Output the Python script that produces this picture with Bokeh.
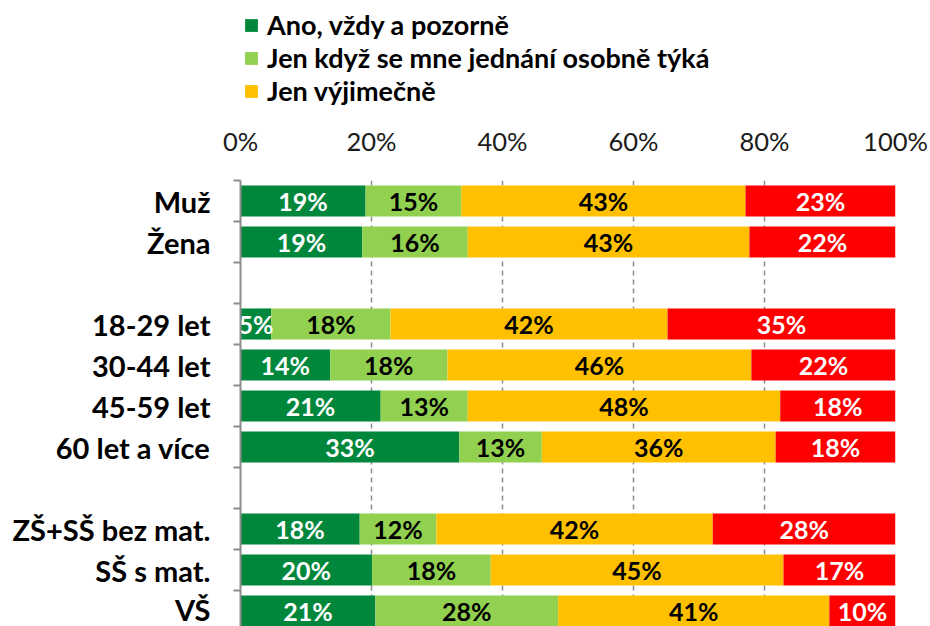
from bokeh.plotting import figure
from bokeh.layouts import column
from bokeh.models import (Range1d, FixedTicker, PrintfTickFormatter, Legend,
                          LegendItem, ColumnDataSource)
from bokeh.core.properties import value
from bokeh.embed import file_html
from bokeh.resources import INLINE

# ---------------- data ----------------
categories = ["Muž", "Žena", "", "18-29 let", "30-44 let", "45-59 let",
              "60 let a více", "", "ZŠ+SŠ bez mat.", "SŠ s mat.", "VŠ"]
series_names = ["Ano, vždy a pozorně", "Jen když se mne jednání osobně týká",
                "Jen výjimečně", "Nikdy"]
# values for the non-empty categories, in order (percent)
ano_vzdy = [19.1, 18.6, 4.7, 13.7, 21.4, 33.4, 18.2, 20.1, 20.6]
jen_kdyz = [14.6, 16.1, 18.2, 17.9, 13.3, 12.6, 11.7, 18.1, 27.9]
jen_vyjimecne = [43.4, 43.0, 42.3, 46.4, 47.7, 35.7, 42.2, 44.7, 41.4]
nikdy = [22.9, 22.3, 34.8, 22.0, 17.6, 18.3, 27.9, 17.1, 10.1]
x_ticks = [0, 20, 40, 60, 80, 100]

# ---------------- styles ----------------
colors = ["#00873C", "#92D050", "#FFC000", "#FF0000"]
label_colors = ["white", "black", "black", "white"]
FONT = "Lato"
ROW_PX = 41
LEG_H = 110
MAIN_H = 516
TOP_BORDER = 70
FRAME_H = MAIN_H - TOP_BORDER
NAN = float("nan")

series = [ano_vzdy, jen_kdyz, jen_vyjimecne, nikdy]
rows = [i + 0.5 for i, c in enumerate(categories) if c]
names = [c for c in categories if c]

# ---------------- main chart ----------------
p = figure(width=930, height=MAIN_H, output_backend="svg", toolbar_location=None,
           x_range=Range1d(0, 100), y_range=Range1d(FRAME_H / ROW_PX, 0),
           x_axis_location="above", min_border_left=240, min_border_right=35,
           min_border_top=TOP_BORDER, min_border_bottom=0)
p.outline_line_color = None
p.background_fill_color = "white"

# legend strip (its frame is aligned with the chart's frame by the column)
lf = figure(width=930, height=LEG_H, output_backend="svg", toolbar_location=None,
            x_range=Range1d(0, 100), y_range=Range1d(0, 1),
            x_axis_location=None, y_axis_location=None,
            min_border_left=240, min_border_right=35, min_border_top=0,
            min_border_bottom=0)
lf.outline_line_color = None
lf.xgrid.grid_line_color = None
lf.ygrid.grid_line_color = None

lefts = [0.0] * len(rows)
legend_items = []
tx, ty, tt, tc = [], [], [], []
for k, vals in enumerate(series):
    rights = [l + v for l, v in zip(lefts, vals)]
    src = ColumnDataSource(dict(y=rows, left=lefts, right=rights))
    p.hbar(y="y", left="left", right="right", height=0.76, source=src,
           fill_color=colors[k], line_color=None)
    if k < 3:
        # swatch-only renderer for the legend (no visible data)
        rr = lf.hbar(y=[NAN], left=[NAN], right=[NAN], height=0.5,
                     fill_color=colors[k], line_color=None)
        legend_items.append(LegendItem(label=series_names[k], renderers=[rr]))
    for l, v, y in zip(lefts, vals, rows):
        tx.append(l + v / 2)
        ty.append(y)
        tt.append(f"{round(v)}%")
        tc.append(label_colors[k])
    lefts = rights

legend = Legend(items=legend_items, location=(3, 3), orientation="vertical",
                label_text_font=FONT, label_text_font_style="bold",
                label_text_font_size="27px", label_text_color="black",
                glyph_width=16, glyph_height=16, label_height=27,
                label_standoff=8, spacing=0, padding=0, margin=0,
                border_line_color=None, background_fill_alpha=0)
lf.add_layout(legend, "center")

tsrc = ColumnDataSource(dict(x=tx, y=ty, text=tt, color=tc))
p.text(x="x", y="y", text="text", text_color="color", source=tsrc,
       text_align="center", text_baseline="middle", text_font=value(FONT),
       text_font_style="bold", text_font_size="25px")

# x axis (top)
xa = p.xaxis[0]
xa.ticker = FixedTicker(ticks=x_ticks)
xa.formatter = PrintfTickFormatter(format="%d%%")
xa.axis_line_color = None
xa.major_tick_line_color = None
xa.minor_tick_line_color = None
xa.major_label_text_font = FONT
xa.major_label_text_font_size = "25.5px"
xa.major_label_text_color = "#1a1a1a"
xa.major_label_standoff = 19

# y axis (left)
ya = p.yaxis[0]
ya.ticker = FixedTicker(ticks=rows, minor_ticks=list(range(len(categories) + 1)))
ya.major_label_overrides = {y: n for y, n in zip(rows, names)}
ya.major_tick_out = 0
ya.major_tick_in = 0
ya.minor_tick_out = 7
ya.minor_tick_in = 0
ya.minor_tick_line_color = "#8c8c8c"
ya.minor_tick_line_width = 2
ya.axis_line_color = "#8c8c8c"
ya.axis_line_width = 2
ya.major_label_text_font = FONT
ya.major_label_text_font_style = "bold"
ya.major_label_text_font_size = "29px"
ya.major_label_text_color = "black"
ya.major_label_standoff = 23

# grid
p.ygrid.grid_line_color = None
p.xgrid.ticker = FixedTicker(ticks=x_ticks[1:])
p.xgrid.grid_line_color = "#8c8c8c"
p.xgrid.grid_line_width = 1.5
p.xgrid.grid_line_dash = "5 4"

layout = column(lf, p, spacing=0)
open("out.html", "w").write(file_html(layout, INLINE))
